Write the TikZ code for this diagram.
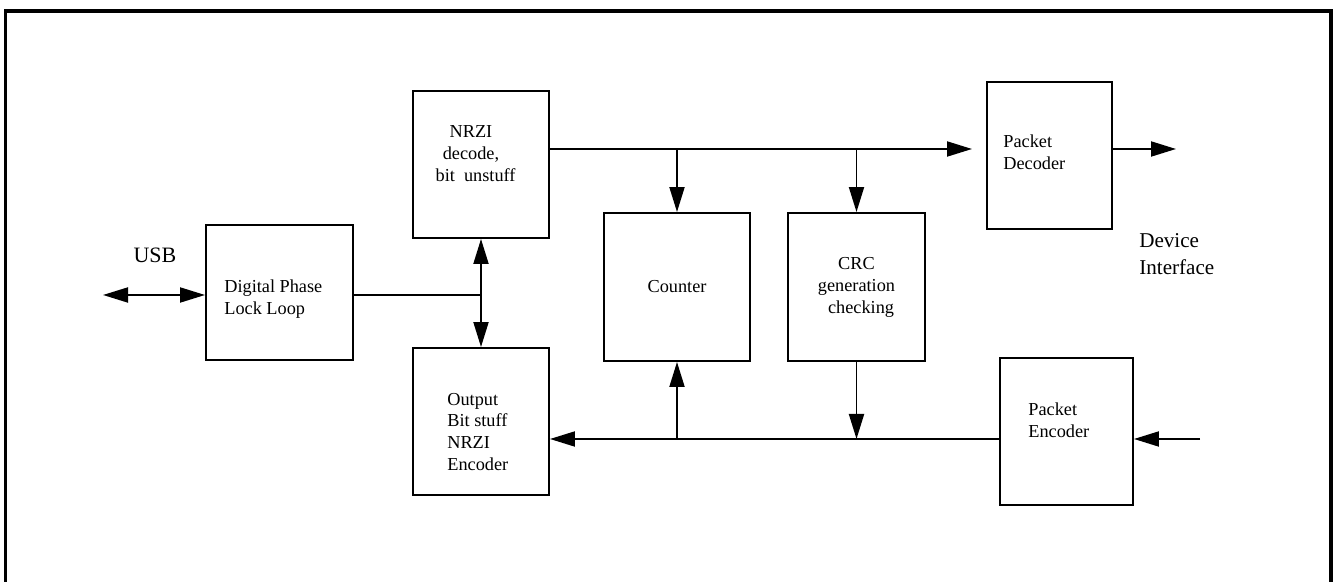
\documentclass[tikz,border=0pt]{standalone}
\usepackage{fontspec}
\setmainfont{Liberation Serif}
\usetikzlibrary{arrows.meta}

\begin{document}
\begin{tikzpicture}[
  blk/.style={draw,line width=1.1pt,inner sep=0pt,align=center,font=\fontsize{10.4}{12.5}\selectfont},
  txt/.style={inner sep=0pt,align=left,font=\fontsize{10.4}{12.5}\selectfont},
  wire/.style={line width=1.1pt},
  arr/.style={wire,-{Triangle[length=0.5cm,width=0.3cm]}},
  dbl/.style={wire,{Triangle[length=0.5cm,width=0.3cm]}-{Triangle[length=0.5cm,width=0.3cm]}}]
\useasboundingbox (0,0) rectangle (26.7,11.64);
\draw[line width=1.9pt] (0.11,0)--(0.11,11.42)--(26.62,11.42)--(26.62,0);

\node[blk,minimum width=2.94cm,minimum height=2.70cm] (dpll) at (5.59,5.79) {};
\node[blk,minimum width=2.72cm,minimum height=2.94cm] (nrzi) at (9.62,8.35) {};
\node[blk,minimum width=2.72cm,minimum height=2.94cm] (out) at (9.62,3.21) {};
\node[blk,minimum width=2.92cm,minimum height=2.96cm] (counter) at (13.54,5.90) {Counter};
\node[blk,minimum width=2.74cm,minimum height=2.96cm] (crc) at (17.13,5.90) {CRC\\generation\\\ \ checking};
\node[blk,minimum width=2.50cm,minimum height=2.94cm] (pdec) at (20.99,8.53) {};
\node[blk,minimum width=2.66cm,minimum height=2.94cm] (penc) at (21.33,3.01) {};

\node[txt,anchor=west] (dpllt) at (4.48,5.65) {Digital Phase\\Lock Loop};
\node[txt,align=center] (nrzit) at (9.42,8.57) {NRZI\\decode,\\\ \ bit\ \ unstuff};
\node[txt,anchor=west] (outt) at (8.94,3.00) {Output\\Bit stuff\\NRZI\\Encoder};
\node[txt,anchor=west] (pdect) at (20.06,8.60) {Packet\\Decoder};
\node[txt,anchor=west] (penct) at (20.56,3.24) {Packet\\Encoder};
\node[inner sep=0pt,font=\fontsize{12.5}{15}\selectfont] (usb) at (3.10,6.54) {USB};
\node[txt,anchor=west,font=\fontsize{12}{15}\selectfont] (dev) at (22.78,6.56) {Device\\Interface};

\coordinate (up) at (0,8.66);
\coordinate (dn) at (0,2.86);
\coordinate (mid) at (0,5.74);
\coordinate (usbend) at (2.06,5.74);
\coordinate (pdecin) at (19.44,8.66);
\coordinate (pdecout) at (23.52,8.66);
\coordinate (pencin) at (24.00,2.86);

\draw[dbl] (usbend) -- (dpll.west |- mid);
\draw[wire] (dpll.east |- mid) -- (nrzi.south |- mid);
\draw[dbl] (nrzi.south) -- (out.north);
\draw[arr] (nrzi.east |- up) -- (pdecin);
\draw[arr] (counter.north |- up) -- (counter.north);
\draw[arr] (crc.north |- up) -- (crc.north);
\draw[arr] (pdec.east |- up) -- (pdecout);
\draw[arr] (pencin) -- (penc.east |- dn);
\draw[arr] (penc.west |- dn) -- (out.east |- dn);
\draw[arr] (counter.south |- dn) -- (counter.south);
\draw[arr] (crc.south) -- (crc.south |- dn);
\end{tikzpicture}
\end{document}
